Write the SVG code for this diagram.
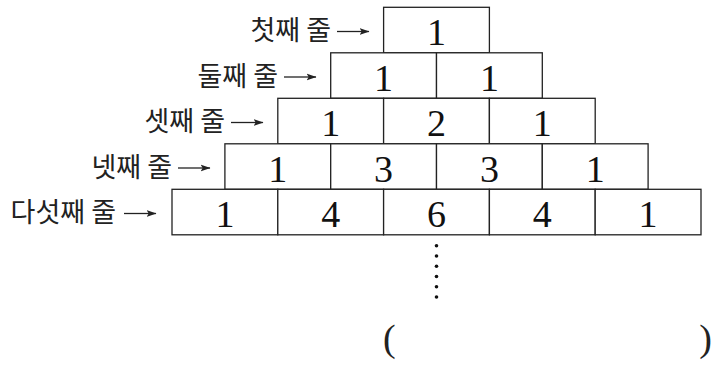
<svg xmlns="http://www.w3.org/2000/svg" width="712" height="365" viewBox="0 0 712 365">
<defs>
<marker id="ah" viewBox="0 0 10 8" refX="9.5" refY="4" markerWidth="10" markerHeight="8" markerUnits="userSpaceOnUse" orient="auto">
<path d="M0,0.6 L10,4 L0,7.4 L2.2,4 Z" fill="#222"/>
</marker>
</defs>
<style>
.cell rect{fill:#fff;stroke:#222;stroke-width:1.3}
.num{font-family:"Liberation Serif",serif;font-size:38px;fill:#111;text-anchor:middle}
.lab{font-family:"Noto Sans CJK KR",sans-serif;font-size:27px;fill:#222;text-anchor:end}
.arr{stroke:#222;stroke-width:1.3;fill:none;marker-end:url(#ah)}
.par{font-family:"Liberation Serif",serif;font-size:38px;fill:#222}
</style>
<rect width="712" height="365" fill="#fff"/>
<g id="labels">
<g id="label1"><text class="lab" x="331" y="40">첫째 줄</text><line class="arr" x1="337" y1="31.5" x2="369" y2="31.5"/></g>
<g id="label2"><text class="lab" x="278" y="85.5">둘째 줄</text><line class="arr" x1="284" y1="77" x2="316" y2="77"/></g>
<g id="label3"><text class="lab" x="225" y="131">셋째 줄</text><line class="arr" x1="231" y1="122.5" x2="263" y2="122.5"/></g>
<g id="label4"><text class="lab" x="172" y="176.5">넷째 줄</text><line class="arr" x1="178" y1="168" x2="210" y2="168"/></g>
<g id="label5"><text class="lab" x="116" y="222">다섯째 줄</text><line class="arr" x1="124" y1="213.5" x2="156" y2="213.5"/></g>
</g>
<g id="row1">
<g id="r1c1" class="cell"><rect x="383.6" y="7.3" width="105.8" height="45.5"/><text class="num" x="436.5" y="45.3">1</text></g>
</g>
<g id="row2">
<g id="r2c1" class="cell"><rect x="330.7" y="52.8" width="105.8" height="45.5"/><text class="num" x="383.6" y="90.8">1</text></g>
<g id="r2c2" class="cell"><rect x="436.5" y="52.8" width="105.8" height="45.5"/><text class="num" x="489.4" y="90.8">1</text></g>
</g>
<g id="row3">
<g id="r3c1" class="cell"><rect x="277.8" y="98.3" width="105.8" height="45.5"/><text class="num" x="330.7" y="136.3">1</text></g>
<g id="r3c2" class="cell"><rect x="383.6" y="98.3" width="105.8" height="45.5"/><text class="num" x="436.5" y="136.3">2</text></g>
<g id="r3c3" class="cell"><rect x="489.4" y="98.3" width="105.8" height="45.5"/><text class="num" x="542.3" y="136.3">1</text></g>
</g>
<g id="row4">
<g id="r4c1" class="cell"><rect x="224.9" y="143.8" width="105.8" height="45.5"/><text class="num" x="277.8" y="181.8">1</text></g>
<g id="r4c2" class="cell"><rect x="330.7" y="143.8" width="105.8" height="45.5"/><text class="num" x="383.6" y="181.8">3</text></g>
<g id="r4c3" class="cell"><rect x="436.5" y="143.8" width="105.8" height="45.5"/><text class="num" x="489.4" y="181.8">3</text></g>
<g id="r4c4" class="cell"><rect x="542.3" y="143.8" width="105.8" height="45.5"/><text class="num" x="595.2" y="181.8">1</text></g>
</g>
<g id="row5">
<g id="r5c1" class="cell"><rect x="172" y="189.3" width="105.8" height="45.5"/><text class="num" x="224.9" y="227.3">1</text></g>
<g id="r5c2" class="cell"><rect x="277.8" y="189.3" width="105.8" height="45.5"/><text class="num" x="330.7" y="227.3">4</text></g>
<g id="r5c3" class="cell"><rect x="383.6" y="189.3" width="105.8" height="45.5"/><text class="num" x="436.5" y="227.3">6</text></g>
<g id="r5c4" class="cell"><rect x="489.4" y="189.3" width="105.8" height="45.5"/><text class="num" x="542.3" y="227.3">4</text></g>
<g id="r5c5" class="cell"><rect x="595.2" y="189.3" width="105.8" height="45.5"/><text class="num" x="648.1" y="227.3">1</text></g>
</g>
<g id="dots" fill="#111">
<circle cx="436.5" cy="245.7" r="1.8"/>
<circle cx="436.5" cy="256" r="1.8"/>
<circle cx="436.5" cy="266.2" r="1.8"/>
<circle cx="436.5" cy="276.5" r="1.8"/>
<circle cx="436.5" cy="286.8" r="1.8"/>
<circle cx="436.5" cy="297" r="1.8"/>
</g>
<g id="answer">
<text class="par" x="383" y="351">(</text>
<text class="par" x="712" y="351" text-anchor="end">)</text>
</g>
</svg>
